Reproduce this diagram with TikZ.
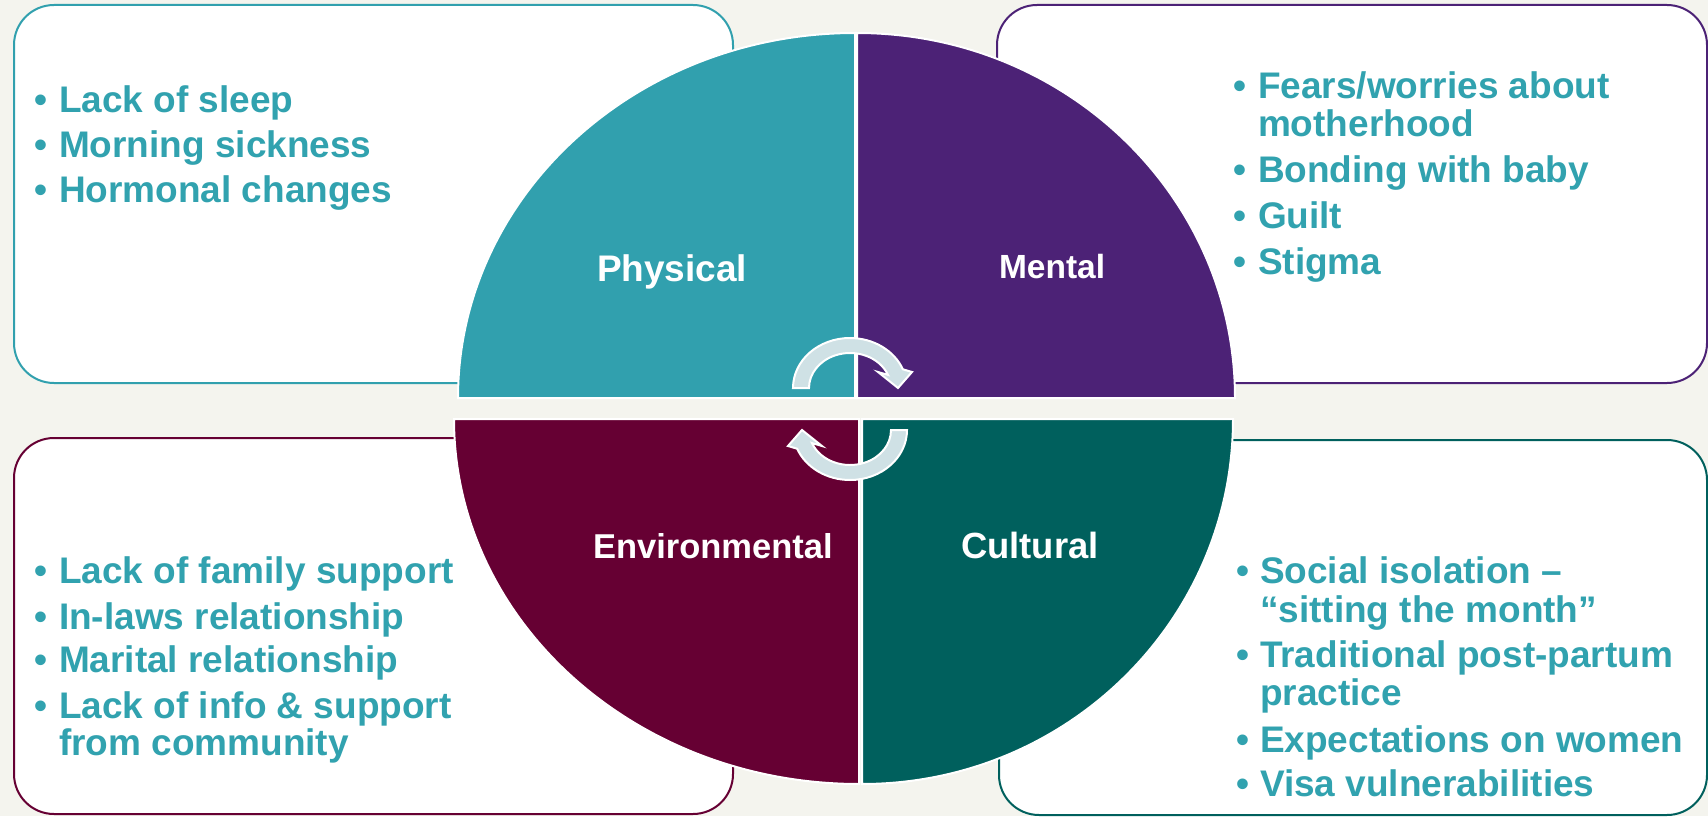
\documentclass[tikz,border=0pt]{standalone}
\usepackage{fontspec}
\setmainfont{Liberation Sans}
\definecolor{bgcream}{HTML}{F4F4EE}
\definecolor{physc}{HTML}{31A0AE}
\definecolor{mentc}{HTML}{4C2276}
\definecolor{envc}{HTML}{660033}
\definecolor{cultc}{HTML}{00605D}
\definecolor{txtteal}{HTML}{31A2AF}
\definecolor{arrowfill}{HTML}{CFE1E5}
\tikzset{
  boxsty/.style={fill=white, line width=1pt, rounded corners=20pt},
  piesty/.style={draw=white, line width=1pt},
  itemtxt/.style={anchor=base west, inner sep=0pt, outer sep=0pt, text=txtteal,
    font=\bfseries\fontsize{18.5}{22}\selectfont},
  lbl/.style={anchor=base west, inner sep=0pt, outer sep=0pt, text=white},
  cycarrow/.style={fill=arrowfill, draw=white, line width=1pt, line join=miter}
}
\begin{document}
\begin{tikzpicture}[x=0.5pt,y=0.5pt]
\useasboundingbox (0,0) rectangle (1708,816);
\fill[bgcream] (0,0) rectangle (1708,816);

% boxes
\draw[boxsty, draw=physc] (14,433) rectangle (733,811);
\draw[boxsty, draw=mentc] (997,433) rectangle (1707,811);
\draw[boxsty, draw=envc] (14,2) rectangle (733,378);
\draw[boxsty, draw=cultc] (999,1) rectangle (1707,376);

% pies
\fill[physc] (855,418) -- (855,783) arc[start angle=90, end angle=180, x radius=397, y radius=365] -- cycle;
\draw[piesty] (855,418) -- (855,783) arc[start angle=90, end angle=180, x radius=397, y radius=365] -- cycle;
\fill[mentc] (857,418) -- (1235,418) arc[start angle=0, end angle=90, x radius=378, y radius=365] -- cycle;
\draw[piesty] (857,418) -- (1235,418) arc[start angle=0, end angle=90, x radius=378, y radius=365] -- cycle;
\fill[envc] (859,397) -- (454,397) arc[start angle=180, end angle=270, x radius=405, y radius=365] -- cycle;
\draw[piesty] (859,397) -- (454,397) arc[start angle=180, end angle=270, x radius=405, y radius=365] -- cycle;
\fill[cultc] (862,397) -- (862,32) arc[start angle=270, end angle=360, x radius=371, y radius=365] -- cycle;
\draw[piesty] (862,397) -- (862,32) arc[start angle=270, end angle=360, x radius=371, y radius=365] -- cycle;

% cycle arrows
\draw[cycarrow] (793,428) arc[start angle=180, end angle=22, x radius=57, y radius=50]
  -- (912,444) -- (898,428) -- (878,444)
  -- ({850+41*cos(22)},{428+35*sin(22)}) arc[start angle=22, end angle=180, x radius=41, y radius=35] -- cycle;
\begin{scope}[rotate around={180:(850,407)}]
\draw[cycarrow] (793,428) arc[start angle=180, end angle=22, x radius=57, y radius=50]
  -- (912,444) -- (898,428) -- (878,444)
  -- ({850+41*cos(22)},{428+35*sin(22)}) arc[start angle=22, end angle=180, x radius=41, y radius=35] -- cycle;
\end{scope}

% labels
\node[lbl, font=\bfseries\fontsize{18.5}{22}\selectfont] (phys) at (597,535) {Physical};
\node[lbl, font=\bfseries\fontsize{16.75}{20}\selectfont] (ment) at (999,538) {Mental};
\node[lbl, font=\bfseries\fontsize{17.25}{20}\selectfont] (envi) at (593,258) {Environmental};
\node[lbl, font=\bfseries\fontsize{18.2}{22}\selectfont] (cult) at (961,258) {Cultural};

% top-left list
\node[itemtxt] (tlb1) at (34,704) {•};
\node[itemtxt] (tl1) at (59,704) {Lack of sleep};
\node[itemtxt] (tlb2) at (34,659) {•};
\node[itemtxt] (tl2) at (59,659) {Morning sickness};
\node[itemtxt] (tlb3) at (34,614) {•};
\node[itemtxt] (tl3) at (59,614) {Hormonal changes};

% top-right list
\node[itemtxt] (trb1) at (1233,717) {•};
\node[itemtxt] (tr1) at (1258,717) {Fears/worries about};
\node[itemtxt] (tr1b) at (1258,679) {motherhood};
\node[itemtxt] (trb2) at (1233,633) {•};
\node[itemtxt] (tr2) at (1258,633) {Bonding with baby};
\node[itemtxt] (trb3) at (1233,588) {•};
\node[itemtxt] (tr3) at (1258,588) {Guilt};
\node[itemtxt] (trb4) at (1233,542) {•};
\node[itemtxt] (tr4) at (1258,542) {Stigma};

% bottom-left list
\node[itemtxt] (blb1) at (34,233) {•};
\node[itemtxt] (bl1) at (59,233) {Lack of family support};
\node[itemtxt] (blb2) at (34,187) {•};
\node[itemtxt] (bl2) at (59,187) {In-laws relationship};
\node[itemtxt] (blb3) at (34,144) {•};
\node[itemtxt] (bl3) at (59,144) {Marital relationship};
\node[itemtxt] (blb4) at (34,98) {•};
\node[itemtxt] (bl4) at (59,98) {Lack of info \& support};
\node[itemtxt] (bl4b) at (59,61) {from community};

% bottom-right list
\node[itemtxt] (brb1) at (1236,233) {•};
\node[itemtxt] (br1) at (1260,233) {Social isolation –};
\node[itemtxt] (br1b) at (1260,194) {“sitting the month”};
\node[itemtxt] (brb2) at (1236,149) {•};
\node[itemtxt] (br2) at (1260,149) {Traditional post-partum};
\node[itemtxt] (br2b) at (1260,111) {practice};
\node[itemtxt] (brb3) at (1236,64) {•};
\node[itemtxt] (br3) at (1260,64) {Expectations on women};
\node[itemtxt] (brb4) at (1236,20) {•};
\node[itemtxt] (br4) at (1260,20) {Visa vulnerabilities};
\end{tikzpicture}
\end{document}
